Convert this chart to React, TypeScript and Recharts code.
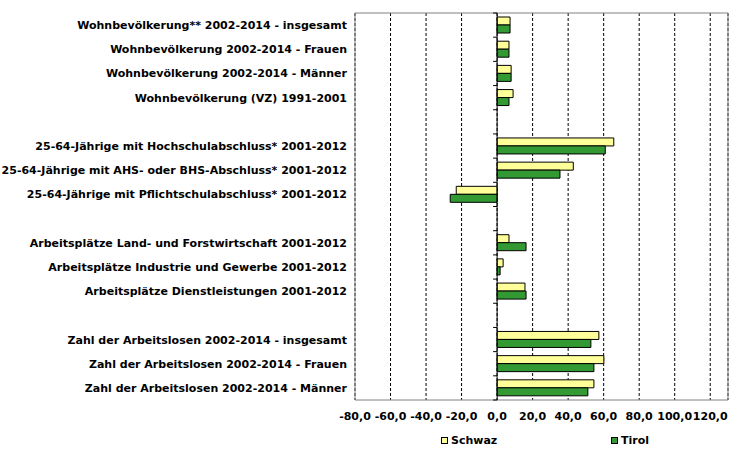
import React from 'react';
import { BarChart, Bar, XAxis, YAxis, CartesianGrid, ReferenceLine, ReferenceArea } from 'recharts';

const categories: string[] = [
  'Wohnbevölkerung** 2002-2014 - insgesamt',
  'Wohnbevölkerung 2002-2014 - Frauen',
  'Wohnbevölkerung 2002-2014 - Männer',
  'Wohnbevölkerung (VZ) 1991-2001',
  '',
  '25-64-Jährige mit Hochschulabschluss* 2001-2012',
  '25-64-Jährige mit AHS- oder BHS-Abschluss* 2001-2012',
  '25-64-Jährige mit Pflichtschulabschluss* 2001-2012',
  '',
  'Arbeitsplätze Land- und Forstwirtschaft 2001-2012',
  'Arbeitsplätze Industrie und Gewerbe 2001-2012',
  'Arbeitsplätze Dienstleistungen 2001-2012',
  '',
  'Zahl der Arbeitslosen 2002-2014 - insgesamt',
  'Zahl der Arbeitslosen 2002-2014 - Frauen',
  'Zahl der Arbeitslosen 2002-2014 - Männer',
];

const schwaz: (number | null)[] = [7.3, 6.7, 7.9, 9.0, null, 65.7, 42.9, -23.0, null, 6.7, 3.4, 15.7, null, 57.3, 60.1, 54.5];
const tirol: (number | null)[] = [7.3, 6.7, 7.9, 6.7, null, 60.9, 35.4, -26.4, null, 16.3, 1.7, 16.3, null, 52.8, 54.5, 51.1];

const seriesNames = ['Schwaz', 'Tirol'];
const xTicks = [-80, -60, -40, -20, 0, 20, 40, 60, 80, 100, 120];

const data = categories.map((name, i) => ({ name, schwaz: schwaz[i], tirol: tirol[i] }));

const FONT = '"DejaVu Sans", Verdana, sans-serif';
const YELLOW = '#FFFF99';
const GREEN = '#339933';

const fmt = (v: number) => v.toFixed(1).replace('.', ',');

const YTick = (props: any) => {
  const { x, y, payload } = props;
  return (
    <text x={x} y={y} dy={4} textAnchor="end" fontFamily={FONT} fontSize={11} fontWeight="bold" fill="#000">
      {payload.value}
    </text>
  );
};

const ZeroLine = (props: any) => {
  const { x1, y1, y2 } = props;
  const n = categories.length;
  const step = (y2 - y1) / n;
  const ticks = [];
  for (let i = 0; i <= n; i++) {
    const y = y1 + step * i;
    ticks.push(<line key={i} x1={x1 - 4} x2={x1} y1={y} y2={y} stroke="#000" strokeWidth={1} />);
  }
  return (
    <g>
      <line x1={x1} x2={x1} y1={y1} y2={y2} stroke="#000" strokeWidth={1} />
      {ticks}
    </g>
  );
};

export default function App() {
  return (
    <div style={{ position: 'absolute', left: 0, top: 0, width: 755, height: 458, background: '#fff' }}>
      <BarChart
        width={755}
        height={458}
        data={data}
        layout="vertical"
        margin={{ top: 13, right: 27, left: 0, bottom: 0 }}
        barGap={0}
        barSize={8}
      >
        <CartesianGrid horizontal={false} vertical={true} stroke="#000" strokeDasharray="3 2" />
        <XAxis
          type="number"
          domain={[-80, 130]}
          ticks={xTicks}
          allowDataOverflow
          tickFormatter={fmt}
          axisLine={false}
          tickLine={false}
          tickSize={0}
          tickMargin={12}
          height={58}
          interval={0}
          tick={{ fontFamily: FONT, fontSize: 11, fontWeight: 'bold', fill: '#000' }}
        />
        <YAxis
          type="category"
          dataKey="name"
          width={355}
          axisLine={false}
          tickLine={false}
          tickSize={0}
          tickMargin={8}
          interval={0}
          tick={<YTick />}
        />
        <ReferenceArea x1={-80} x2={130} fill="none" stroke="#808080" strokeWidth={1} ifOverflow="visible" />
        <Bar dataKey="schwaz" name={seriesNames[0]} fill={YELLOW} stroke="#000" strokeWidth={1} isAnimationActive={false} />
        <Bar dataKey="tirol" name={seriesNames[1]} fill={GREEN} stroke="#000" strokeWidth={1} isAnimationActive={false} />
        <ReferenceLine x={0} shape={<ZeroLine />} />
      </BarChart>
      <div style={{ position: 'absolute', left: 441, top: 434, fontFamily: FONT, fontSize: 11, fontWeight: 'bold', display: 'flex', alignItems: 'center' }}>
        <span style={{ display: 'inline-block', width: 5, height: 5, background: YELLOW, border: '1px solid #000', marginRight: 3 }} />
        <span>{seriesNames[0]}</span>
      </div>
      <div style={{ position: 'absolute', left: 611, top: 434, fontFamily: FONT, fontSize: 11, fontWeight: 'bold', display: 'flex', alignItems: 'center' }}>
        <span style={{ display: 'inline-block', width: 5, height: 5, background: GREEN, border: '1px solid #000', marginRight: 3 }} />
        <span>{seriesNames[1]}</span>
      </div>
    </div>
  );
}
